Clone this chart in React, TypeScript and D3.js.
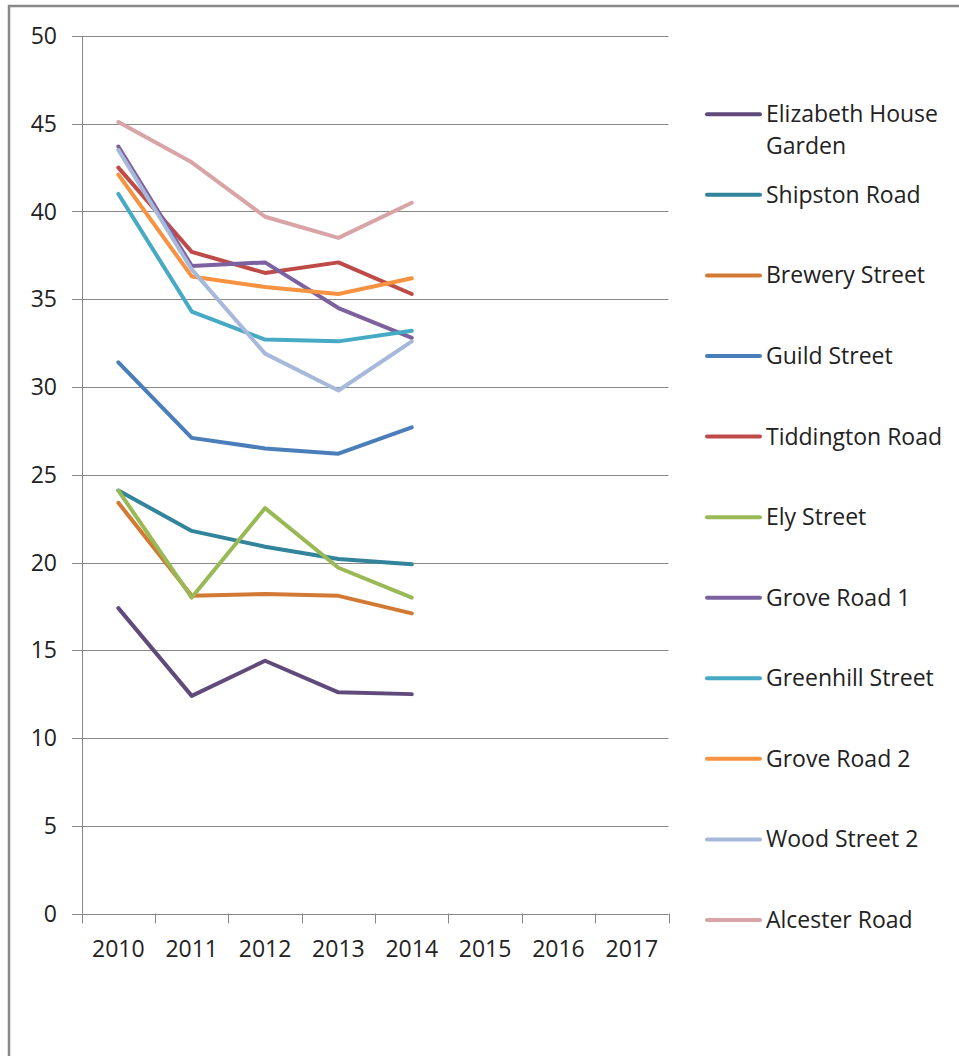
import React, { useEffect, useRef } from 'react';
import * as d3 from 'd3';

const years = ['2010', '2011', '2012', '2013', '2014', '2015', '2016', '2017'];
const yTicks = [0, 5, 10, 15, 20, 25, 30, 35, 40, 45, 50];

interface Series {
  name: string[];
  color: string;
  values: number[];
}

const elizabethHouseGarden = [17.4, 12.4, 14.4, 12.6, 12.5];
const shipstonRoad = [24.1, 21.8, 20.9, 20.2, 19.9];
const breweryStreet = [23.4, 18.1, 18.2, 18.1, 17.1];
const guildStreet = [31.4, 27.1, 26.5, 26.2, 27.7];
const tiddingtonRoad = [42.5, 37.7, 36.5, 37.1, 35.3];
const elyStreet = [24.1, 18.0, 23.1, 19.7, 18.0];
const groveRoad1 = [43.7, 36.9, 37.1, 34.5, 32.8];
const greenhillStreet = [41.0, 34.3, 32.7, 32.6, 33.2];
const groveRoad2 = [42.1, 36.3, 35.7, 35.3, 36.2];
const woodStreet2 = [43.5, 36.7, 31.9, 29.8, 32.6];
const alcesterRoad = [45.1, 42.8, 39.7, 38.5, 40.5];

const series: Series[] = [
  { name: ['Elizabeth House', 'Garden'], color: '#604a7b', values: elizabethHouseGarden },
  { name: ['Shipston Road'], color: '#31849b', values: shipstonRoad },
  { name: ['Brewery Street'], color: '#d27a34', values: breweryStreet },
  { name: ['Guild Street'], color: '#4a7ebb', values: guildStreet },
  { name: ['Tiddington Road'], color: '#be4b48', values: tiddingtonRoad },
  { name: ['Ely Street'], color: '#98b954', values: elyStreet },
  { name: ['Grove Road 1'], color: '#7d60a0', values: groveRoad1 },
  { name: ['Greenhill Street'], color: '#46aac5', values: greenhillStreet },
  { name: ['Grove Road 2'], color: '#f69240', values: groveRoad2 },
  { name: ['Wood Street 2'], color: '#a7b9da', values: woodStreet2 },
  { name: ['Alcester Road'], color: '#d9a4a5', values: alcesterRoad },
];

const W = 959;
const H = 1056;
const FONT = '"Open Sans", "Noto Sans", sans-serif';

const LineChart: React.FC = () => {
  const svgRef = useRef<SVGSVGElement>(null);

  useEffect(() => {
    if (!svgRef.current) return;
    const svg = d3.select(svgRef.current);
    svg.selectAll('*').remove();

    const x = d3.scaleBand<string>().domain(years).range([81.7, 668.5]);
    const y = d3.scaleLinear().domain([0, 50]).range([913.5, 36]);
    const cx = (yr: string) => (x(yr) as number) + x.bandwidth() / 2;

    // Outer frame (only top and left edges visible)
    svg.append('path')
      .attr('d', `M9,${H} L9,6 L${W},6`)
      .attr('fill', 'none')
      .attr('stroke', '#888')
      .attr('stroke-width', 2.5);

    const axisColor = '#888';

    // Horizontal gridlines + y ticks
    svg.append('g')
      .selectAll('line')
      .data(yTicks)
      .enter().append('line')
      .attr('x1', 72)
      .attr('x2', 668.5)
      .attr('y1', d => Math.round(y(d)) + 0.5)
      .attr('y2', d => Math.round(y(d)) + 0.5)
      .attr('stroke', axisColor)
      .attr('stroke-width', 1);

    // Y axis line
    svg.append('line')
      .attr('x1', 82.5).attr('x2', 82.5)
      .attr('y1', y(50)).attr('y2', y(0))
      .attr('stroke', axisColor);

    // X ticks at band edges
    const edges = years.map(yr => x(yr) as number).concat([668.5]);
    svg.append('g')
      .selectAll('line')
      .data(edges)
      .enter().append('line')
      .attr('x1', d => Math.round(d) + 0.5)
      .attr('x2', d => Math.round(d) + 0.5)
      .attr('y1', y(0))
      .attr('y2', y(0) + 10)
      .attr('stroke', axisColor);

    // Y labels
    svg.append('g')
      .selectAll('text')
      .data(yTicks)
      .enter().append('text')
      .attr('x', 57)
      .attr('y', d => y(d) + 8)
      .attr('text-anchor', 'end')
      .style('font-family', FONT)
      .style('font-size', '23px')
      .style('fill', '#222')
      .text(d => d);

    // X labels
    svg.append('g')
      .selectAll('text')
      .data(years)
      .enter().append('text')
      .attr('x', d => cx(d))
      .attr('y', 957)
      .attr('text-anchor', 'middle')
      .style('font-family', FONT)
      .style('font-size', '23px')
      .style('fill', '#222')
      .text(d => d);

    // Lines
    const line = d3.line<number>()
      .x((_, i) => cx(years[i]))
      .y(d => y(d));

    svg.append('g')
      .selectAll('path')
      .data(series)
      .enter().append('path')
      .attr('d', d => line(d.values))
      .attr('fill', 'none')
      .attr('stroke', d => d.color)
      .attr('stroke-width', 4)
      .attr('stroke-linejoin', 'round')
      .attr('stroke-linecap', 'round');

    // Legend
    const legendY = d3.scaleLinear().domain([0, series.length - 1]).range([114.3, 920]);
    const leg = svg.append('g')
      .selectAll('g')
      .data(series)
      .enter().append('g')
      .attr('transform', (_, i) => `translate(0,${legendY(i)})`);

    leg.append('line')
      .attr('x1', 707).attr('x2', 760)
      .attr('y1', 0).attr('y2', 0)
      .attr('stroke', d => d.color)
      .attr('stroke-width', 4)
      .attr('stroke-linecap', 'round');

    leg.append('text')
      .attr('x', 766)
      .attr('y', 8)
      .style('font-family', FONT)
      .style('font-size', '23px')
      .style('fill', '#222')
      .selectAll('tspan')
      .data(d => d.name)
      .enter().append('tspan')
      .attr('x', 766)
      .attr('dy', (_, i) => (i === 0 ? 0 : 31.5))
      .text(d => d);
  }, []);

  return <svg ref={svgRef} width={W} height={H} style={{ position: 'absolute', left: 0, top: 0, background: '#fff' }} />;
};

export default function App() {
  return <LineChart />;
}
